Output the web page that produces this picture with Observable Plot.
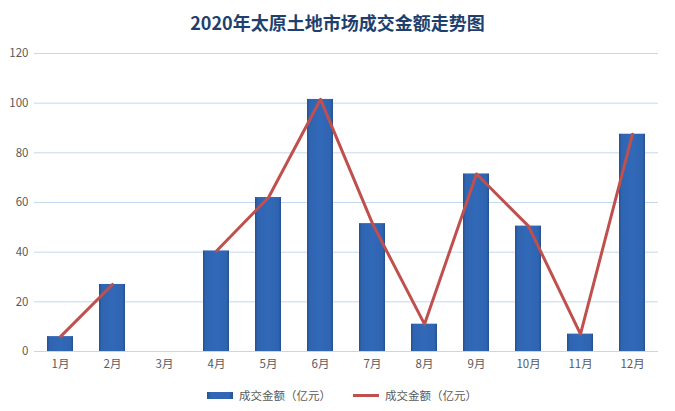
<!DOCTYPE html>
<html>
<head>
<meta charset="utf-8">
<script src="https://cdn.jsdelivr.net/npm/d3@7"></script>
<script src="https://cdn.jsdelivr.net/npm/@observablehq/plot@0.6"></script>
<style>
  body { margin: 0; background: #fff; font-family: "Noto Sans CJK SC", "Noto Sans", sans-serif; }
  #title { height: 40px; line-height: 44px; text-align: center; font-size: 18px; font-weight: bold; color: #1f3f6e; }
  #legend { display: flex; justify-content: center; align-items: center; height: 30px; font-size: 11.5px; color: #595959; padding-left: 9px; }
  .sw { display: inline-block; width: 26px; margin-right: 6px; }
</style>
</head>
<body>
<div id="title">2020年太原土地市场成交金额走势图</div>
<div id="chart"></div>
<div id="legend">
  <span class="sw" style="height:7px;background:linear-gradient(90deg,#27528f,#3066b3 15%,#3066b3 85%,#27528f);"></span><span style="margin-right:22px">成交金额（亿元）</span>
  <span class="sw" style="height:3px;background:#c0504d;"></span><span>成交金额（亿元）</span>
</div>
<script>
const months = ["1月","2月","3月","4月","5月","6月","7月","8月","9月","10月","11月","12月"];
const barValues = [6, 27, null, 40.5, 62, 101.5, 51.5, 11, 71.5, 50.5, 7, 87.5];
const lineValues = [6, 27, null, 40.5, 62, 101.5, 51.5, 11, 71.5, 50.5, 7, 87.5];
const yTicks = [0, 20, 40, 60, 80, 100, 120];

const rows = months.map((m, i) => ({month: m, bar: barValues[i], line: lineValues[i]}));

const defs = () => {
  const ns = "http://www.w3.org/2000/svg";
  const d = document.createElementNS(ns, "defs");
  const g = document.createElementNS(ns, "linearGradient");
  g.setAttribute("id", "barGrad");
  g.setAttribute("x1", "0"); g.setAttribute("x2", "1"); g.setAttribute("y1", "0"); g.setAttribute("y2", "0");
  [["0%", "#26508d"], ["10%", "#2f64b1"], ["50%", "#3169b8"], ["90%", "#2f64b1"], ["100%", "#26508d"]].forEach(([o, c]) => {
    const s = document.createElementNS(ns, "stop");
    s.setAttribute("offset", o); s.setAttribute("stop-color", c);
    g.appendChild(s);
  });
  d.appendChild(g);
  return d;
};

const chart = Plot.plot({
  width: 675,
  height: 340,
  marginTop: 13,
  marginBottom: 29,
  marginLeft: 34,
  marginRight: 17,
  style: {fontFamily: "'Noto Sans CJK SC', sans-serif", fontSize: "11.5px", color: "#595959", background: "#fff"},
  x: {domain: months, paddingInner: 0.5, paddingOuter: 0.25, label: null, tickSize: 0, tickPadding: 8},
  y: {domain: [0, 120], ticks: yTicks, label: null, tickSize: 0, tickPadding: 6},
  marks: [
    defs,
    Plot.gridY(yTicks, {stroke: "#c3d8ee", strokeOpacity: 1, strokeWidth: 1}),
    Plot.barY(rows.filter(d => d.bar != null), {x: "month", y: "bar", fill: "url(#barGrad)"}),
    Plot.line(rows, {x: "month", y: "line", stroke: "#c0504d", strokeWidth: 3, strokeLinejoin: "round", strokeLinecap: "round"}),
    Plot.axisX({tickSize: 0, tickPadding: 8, fill: "#595959"}),
    Plot.axisY(yTicks, {tickSize: 0, tickPadding: 6, fill: "#595959"})
  ]
});
document.getElementById("chart").appendChild(chart);
</script>
</body>
</html>
